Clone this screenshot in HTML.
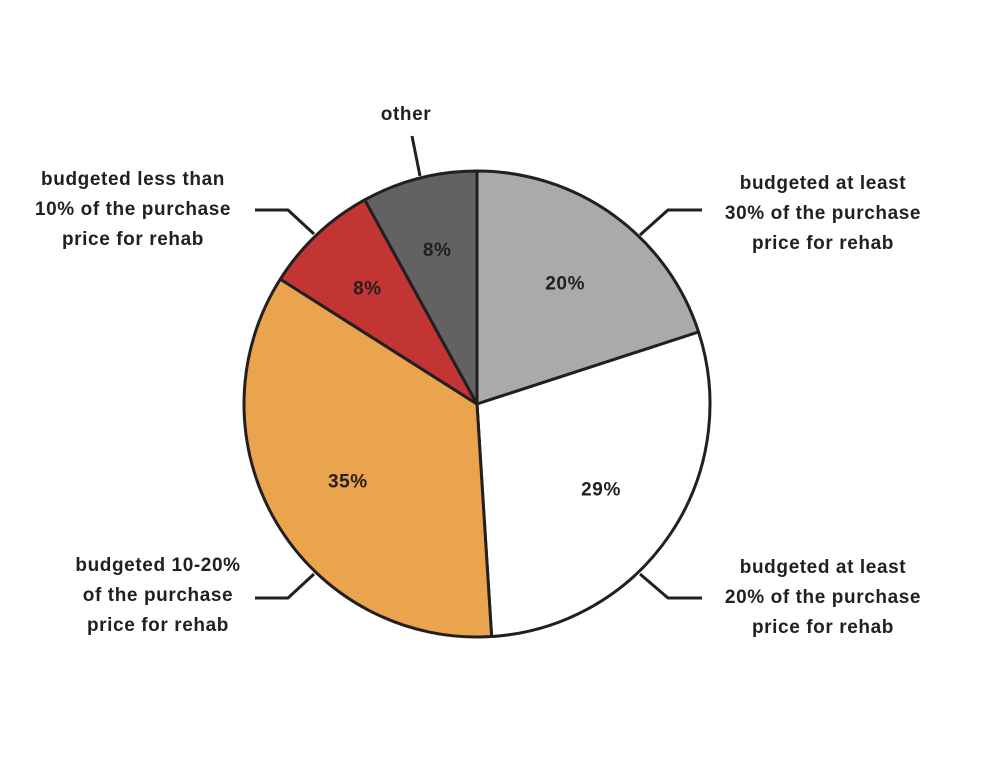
<!DOCTYPE html>
<html><head><meta charset="utf-8"><style>
body{margin:0;background:#fff}
svg text{font-family:"Liberation Sans",sans-serif;font-weight:bold;fill:#231f20;letter-spacing:0.6px}
</style></head><body>
<svg width="1000" height="760" viewBox="0 0 1000 760">
<g id="slices"></g>
<g id="pcts"></g>
<g stroke="#231f20" stroke-width="3" fill="none">
<polyline points="640,235 668,210 702,210"/>
<polyline points="640,574 668,598 702,598"/>
<polyline points="314,574 288,598 255,598"/>
<polyline points="314,234 288,210 255,210"/>
<polyline points="420,176 412,136"/>
</g>
<g font-size="19" text-anchor="middle">
<text x="823" y="189">budgeted at least</text>
<text x="823" y="219">30% of the purchase</text>
<text x="823" y="249">price for rehab</text>
<text x="823" y="573">budgeted at least</text>
<text x="823" y="603">20% of the purchase</text>
<text x="823" y="633">price for rehab</text>
<text x="158" y="571">budgeted 10-20%</text>
<text x="158" y="601">of the purchase</text>
<text x="158" y="631">price for rehab</text>
<text x="133" y="185">budgeted less than</text>
<text x="133" y="215">10% of the purchase</text>
<text x="133" y="245">price for rehab</text>
<text x="406" y="120">other</text>
</g>
</svg>
<script>
const categories=["at least 30%","at least 20%","10-20%","less than 10%","other"];
const values=[20,29,35,8,8];
const colors=["#a9aaa9","#ffffff","#eba44e","#c33533","#616261"];
const pctLabels=["20%","29%","35%","8%","8%"];
const cx=477,cy=404,r=233;
const ns="http://www.w3.org/2000/svg";
const total=values.reduce((a,b)=>a+b,0);
const sg=document.getElementById('slices'),pg=document.getElementById('pcts');
function pt(a,rr){return [cx+rr*Math.sin(a),cy-rr*Math.cos(a)];}
let acc=0;
values.forEach((v,i)=>{
const a0=acc/total*2*Math.PI;acc+=v;const a1=acc/total*2*Math.PI;
const p0=pt(a0,r),p1=pt(a1,r);
const path=document.createElementNS(ns,'path');
path.setAttribute('d',`M${cx},${cy}L${p0[0]},${p0[1]}A${r},${r} 0 ${a1-a0>Math.PI?1:0} 1 ${p1[0]},${p1[1]}Z`);
path.setAttribute('fill',colors[i]);path.setAttribute('stroke','#231f20');path.setAttribute('stroke-width','3');path.setAttribute('stroke-linejoin','round');


sg.appendChild(path);
const am=(a0+a1)/2;const rr=v<10?160:150;const lp=pt(am,rr);
const t=document.createElementNS(ns,'text');
t.setAttribute('x',lp[0]);t.setAttribute('y',lp[1]+7);t.setAttribute('text-anchor','middle');t.setAttribute('font-size','19');
t.textContent=pctLabels[i];


pg.appendChild(t);
});
</script>
</body></html>
